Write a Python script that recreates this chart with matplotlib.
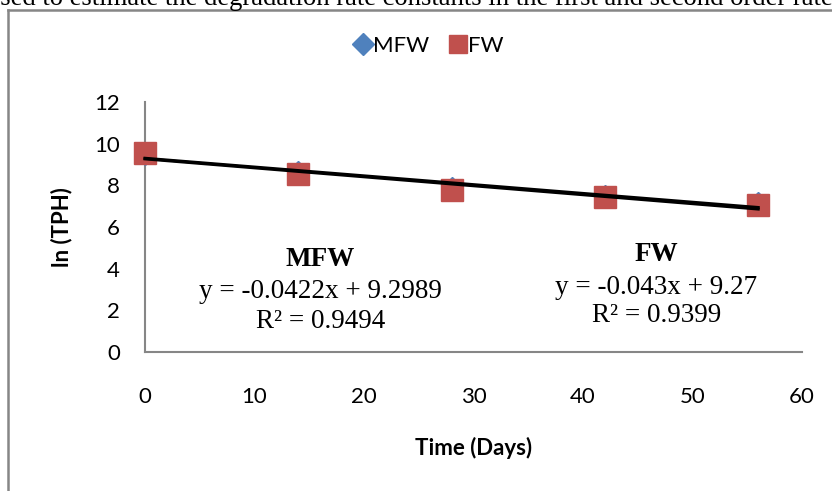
import matplotlib
matplotlib.use("Agg")
import matplotlib.pyplot as plt
from matplotlib.lines import Line2D
import numpy as np

days = [0, 14, 28, 42, 56]
mfw = [9.52, 8.64, 7.85, 7.50, 7.16]
fw = [9.55, 8.55, 7.78, 7.44, 7.06]
mfw_fit = (-0.0422, 9.2989)
fw_fit = (-0.043, 9.27)
xticks = [0, 10, 20, 30, 40, 50, 60]
yticks = [0, 2, 4, 6, 8, 10, 12]

W, H = 832, 491
fig = plt.figure(figsize=(W/100, H/100), dpi=100)
ax = fig.add_axes([145/W, 1-352/H, (802-145)/W, (352-102)/H])

sans = "Lato"
serif = "Liberation Serif"
fs = 16

ax.plot(days, mfw, linestyle='none', marker='D', color='#4F81BD', markersize=11, label='MFW',
        zorder=3, clip_on=False)
ax.plot(days, fw, linestyle='none', marker='s', color='#C0504D', markersize=16, label='FW',
        zorder=4, clip_on=False)

xx = np.array([days[0], days[-1]])
ax.plot(xx, mfw_fit[0]*xx + mfw_fit[1], color='black', lw=2.2, zorder=5, clip_on=False)
ax.plot(xx, fw_fit[0]*xx + fw_fit[1], color='black', lw=2.2, zorder=5, clip_on=False)

ax.set_xlim(0, 60)
ax.set_ylim(0, 12)
ax.set_xticks(xticks)
ax.set_yticks(yticks)
ax.tick_params(length=0)
ax.tick_params(axis='x', pad=25)
ax.tick_params(axis='y', pad=18)
for lab in ax.get_xticklabels() + ax.get_yticklabels():
    lab.set_fontfamily(sans)
    lab.set_fontsize(fs)
for s in ['top', 'right']:
    ax.spines[s].set_visible(False)
for s in ['left', 'bottom']:
    ax.spines[s].set_color('#868686')
    ax.spines[s].set_linewidth(1.5)

ax.set_xlabel('Time (Days)', fontfamily=sans, fontweight='bold', fontsize=fs, labelpad=22)
ax.set_ylabel('ln (TPH)', fontfamily=sans, fontweight='bold', fontsize=fs, labelpad=16)

leg = fig.legend(handles=[Line2D([], [], ls='none', marker='D', color='#4F81BD', markersize=11),
                          Line2D([], [], ls='none', marker='s', color='#C0504D', markersize=12.5)],
                 labels=['MFW', 'FW'], loc='center', bbox_to_anchor=(430/W, 1-46/H),
                 ncol=2, frameon=False, handlelength=0.6, handletextpad=0.15, columnspacing=1.0,
                 prop={'family': sans, 'size': fs})

# annotations
afs = 19.5
ax.text(16.0, 4.42, 'MFW', fontfamily=serif, fontweight='bold', fontsize=afs, ha='center', va='center')
ax.text(16.0, 2.88, 'y = -0.0422x + 9.2989', fontfamily=serif, fontsize=afs, ha='center', va='center')
ax.text(16.0, 1.44, 'R² = 0.9494', fontfamily=serif, fontsize=afs, ha='center', va='center')
ax.text(46.7, 4.66, 'FW', fontfamily=serif, fontweight='bold', fontsize=afs, ha='center', va='center')
ax.text(46.7, 3.12, 'y = -0.043x + 9.27', fontfamily=serif, fontsize=afs, ha='center', va='center')
ax.text(46.7, 1.73, 'R² = 0.9399', fontfamily=serif, fontsize=afs, ha='center', va='center')

# outer chart border (top and left)
fig.add_artist(Line2D([8/W, 8/W], [0, 1-10/H], transform=fig.transFigure, color='#868686', lw=1.8))
fig.add_artist(Line2D([8/W, 1], [1-10/H, 1-10/H], transform=fig.transFigure, color='#868686', lw=1.8))

# cut-off document text above the chart
fig.text(-13/W, 1-5/H, 'used to estimate the degradation rate constants in the first and second order rate',
         fontfamily=serif, fontsize=19.2, ha='left', va='baseline')

fig.savefig('out.png', dpi=100)
